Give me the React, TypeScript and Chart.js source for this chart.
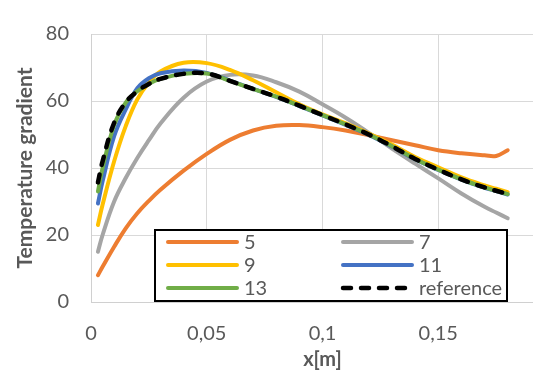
import React, { useEffect, useRef } from "react";
import { Chart, registerables } from "chart.js";

Chart.register(...registerables);

// ---- data ----
const xValues = [0.003, 0.005, 0.01, 0.015, 0.02, 0.025, 0.03, 0.04, 0.05, 0.06, 0.07, 0.08, 0.09, 0.1, 0.11, 0.12, 0.13, 0.14, 0.15, 0.16, 0.17, 0.175, 0.18];
const series5 = [8, 10.5, 16.5, 22, 26.5, 30.2, 33.5, 39.2, 44.2, 48.4, 51.2, 52.6, 52.8, 52.2, 51.2, 49.8, 48.3, 46.8, 45.3, 44.4, 43.8, 43.6, 45.3];
const series7 = [15, 20, 30, 37, 43, 48.3, 53.3, 61, 65.8, 67.8, 67.6, 65.6, 62.8, 59, 55, 50.5, 45.8, 41.3, 36.9, 32.4, 28.4, 26.7, 25];
const series9 = [23, 29, 42, 52.5, 60.5, 65.5, 68.8, 71.4, 71.3, 69.3, 66.2, 62.6, 59, 56, 53.3, 50.3, 47, 43.3, 40.2, 37.2, 34.8, 33.8, 32.8];
const series11 = [29.4, 36, 49.5, 57.5, 63.8, 66.8, 68.3, 69.1, 68.4, 66.1, 63.6, 61.2, 58.5, 55.7, 52.9, 49.9, 46.4, 42.6, 39.4, 36.5, 34.1, 33.1, 32.1];
const series13 = [33, 40, 52.8, 59.5, 62.9, 65.1, 66.6, 68.1, 68.2, 66, 63.6, 61.3, 58.6, 55.8, 53, 50, 46.5, 42.7, 39.5, 36.6, 34.2, 33.2, 32.2];
const seriesRef = [35.7, 42, 53.5, 59.6, 62.9, 65.1, 66.6, 68.1, 68.2, 66, 63.6, 61.3, 58.6, 55.8, 53, 50, 46.5, 42.7, 39.5, 36.6, 34.2, 33.2, 32.2];

const seriesLabels = ["5", "7", "9", "11", "13", "reference"];
const seriesColors = ["#ED7D31", "#A5A5A5", "#FFC000", "#4472C4", "#70AD47", "#000000"];
const seriesValues = [series5, series7, series9, series11, series13, seriesRef];

const xMin = 0;
const xMax = 0.2;
const xStep = 0.05;
const yMin = 0;
const yMax = 80;
const yStep = 20;

const xTitle = "x[m]";
const yTitle = "Temperature gradient";

const TEXT = "#595959";
const FONT = "Lato, 'Open Sans', sans-serif";

const insideLegend = {
  id: "insideLegend",
  afterDraw(chart: any) {
    const ctx = chart.ctx;
    const a = chart.chartArea;
    const boxL = a.left + 64;
    const boxR = a.left + 416;
    const boxT = a.bottom - 72;
    const boxB = a.bottom - 1;
    ctx.save();
    ctx.fillStyle = "#ffffff";
    ctx.fillRect(boxL, boxT, boxR - boxL, boxB - boxT);
    ctx.strokeStyle = "#000000";
    ctx.lineWidth = 2;
    ctx.strokeRect(boxL, boxT, boxR - boxL, boxB - boxT);
    const colX = [13, 188];
    const rowY = [12, 35, 58];
    ctx.font = `20px ${FONT}`;
    ctx.textBaseline = "middle";
    ctx.textAlign = "left";
    seriesLabels.forEach((label, i) => {
      const col = i % 2;
      const row = Math.floor(i / 2);
      const x0 = boxL + colX[col];
      const y0 = boxT + rowY[row];
      ctx.beginPath();
      ctx.lineWidth = label === "reference" ? 4.5 : 4;
      ctx.lineCap = "round";
      ctx.setLineDash(label === "reference" ? [8, 10] : []);
      ctx.strokeStyle = seriesColors[i];
      ctx.moveTo(x0, y0);
      ctx.lineTo(x0 + 69, y0);
      ctx.stroke();
      ctx.setLineDash([]);
      ctx.fillStyle = TEXT;
      ctx.fillText(label, x0 + 76, y0 + 1);
    });
    ctx.restore();
  },
};

export default function App() {
  const canvasRef = useRef<HTMLCanvasElement | null>(null);

  useEffect(() => {
    const canvas = canvasRef.current;
    if (!canvas) return;
    const datasets = seriesValues.map((vals, i) => {
      const isRef = seriesLabels[i] === "reference";
      return {
        label: seriesLabels[i],
        data: xValues.map((x, j) => ({ x, y: vals[j] })),
        borderColor: seriesColors[i],
        backgroundColor: seriesColors[i],
        borderWidth: isRef ? 4.5 : 4,
        borderDash: isRef ? [8, 10] : [],
        borderCapStyle: "round" as const,
        borderJoinStyle: "round" as const,
        pointRadius: 0,
        tension: 0.4,
        fill: false,
        order: seriesLabels.length - 1 - i,
      };
    });

    const chart = new Chart(canvas, {
      type: "line",
      data: { datasets },
      options: {
        animation: false,
        responsive: false,
        devicePixelRatio: 1,
        layout: { padding: { top: 13, right: 1, left: 0, bottom: 0 } },
        plugins: {
          legend: { display: false },
          tooltip: { enabled: false },
        },
        scales: {
          x: {
            type: "linear",
            min: xMin,
            max: xMax,
            ticks: {
              stepSize: xStep,
              includeBounds: false,
              color: TEXT,
              font: { family: FONT, size: 20 },
              padding: 20,
              maxRotation: 0,
              callback: (v: any) => {
                const n = Number(Number(v).toFixed(2));
                if (n >= xMax) return "";
                return String(n).replace(".", ",");
              },
            },
            grid: { color: "#d9d9d9", lineWidth: 1, drawTicks: false },
            border: { color: "#d0d0d0", width: 1 },
            title: {
              display: true,
              text: xTitle,
              color: TEXT,
              font: { family: FONT, size: 20, weight: "bold" },
              padding: { top: 0, bottom: 4 },
            },
            afterFit: (scale: any) => {
              scale.height = 74;
            },
          },
          y: {
            min: yMin,
            max: yMax,
            ticks: {
              stepSize: yStep,
              color: TEXT,
              font: { family: FONT, size: 20 },
              padding: 22,
            },
            grid: { color: "#d9d9d9", lineWidth: 1, drawTicks: false },
            border: { color: "#d0d0d0", width: 1 },
            title: {
              display: true,
              text: yTitle,
              color: TEXT,
              font: { family: FONT, size: 21, weight: "bold" },
              padding: { top: 13, bottom: 0 },
            },
            afterFit: (scale: any) => {
              scale.width = 91;
            },
          },
        },
      },
      plugins: [insideLegend],
    });
    return () => chart.destroy();
  }, []);

  return (
    <div
      style={{
        position: "fixed",
        left: 0,
        top: 0,
        width: 533,
        height: 376,
        overflow: "hidden",
        background: "#fff",
      }}
    >
      <canvas ref={canvasRef} width={574} height={376} style={{ display: "block" }} />
    </div>
  );
}
